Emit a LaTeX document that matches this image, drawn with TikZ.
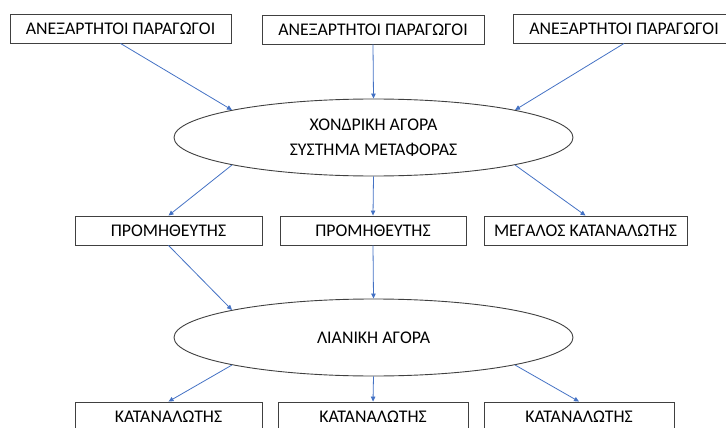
\documentclass[tikz,border=0pt]{standalone}
\usepackage{fontspec}
\setmainfont{Carlito}
\usetikzlibrary{arrows.meta,shapes.geometric}
\definecolor{arrblue}{HTML}{4472C4}
\definecolor{edge}{HTML}{404040}
\begin{document}
\begin{tikzpicture}[x=1pt,y=-1pt,
  box/.style={draw=edge, line width=0.9pt, rectangle, inner sep=0pt, minimum height=29pt, font=\fontsize{17.8}{20}\selectfont},
  oval/.style={draw=edge, line width=0.9pt, ellipse, inner sep=0pt, minimum width=399pt, minimum height=77pt, align=center, font=\fontsize{17.8}{22}\selectfont},
  link/.style={draw=arrblue, line width=0.8pt, -{Triangle[length=5pt,width=4.5pt]}}
]
\useasboundingbox (0,0) rectangle (726,428);
\begin{scope}
\clip (0,0) rectangle (726,428);
\node[box, minimum width=221pt] (t1) at (120.5,28.5) {ΑΝΕΞΑΡΤΗΤΟΙ ΠΑΡΑΓΩΓΟΙ};
\node[box, minimum width=222pt] (t2) at (373,29.5) {ΑΝΕΞΑΡΤΗΤΟΙ ΠΑΡΑΓΩΓΟΙ};
\node[box, minimum width=222pt] (t3) at (624,28.5) {ΑΝΕΞΑΡΤΗΤΟΙ ΠΑΡΑΓΩΓΟΙ};
\node[oval] (e1) at (373.5,137.5) {\raisebox{-2.5pt}{\shortstack{ΧΟΝΔΡΙΚΗ ΑΓΟΡΑ\\[9pt]ΣΥΣΤΗΜΑ ΜΕΤΑΦΟΡΑΣ}}};
\node[box, minimum width=187pt] (m1) at (168.5,230.5) {ΠΡΟΜΗΘΕΥΤΗΣ};
\node[box, minimum width=186pt] (m2) at (373,230.5) {ΠΡΟΜΗΘΕΥΤΗΣ};
\node[box, minimum width=203pt] (m3) at (585.5,230.5) {ΜΕΓΑΛΟΣ ΚΑΤΑΝΑΛΩΤΗΣ};
\node[oval] (e2) at (373.5,337.5) {\raisebox{-1.5pt}{ΛΙΑΝΙΚΗ ΑΓΟΡΑ}};
\node[box, minimum width=187pt] (b1) at (168.5,416.5) {ΚΑΤΑΝΑΛΩΤΗΣ};
\node[box, minimum width=190pt] (b2) at (373,416.5) {ΚΑΤΑΝΑΛΩΤΗΣ};
\node[box, minimum width=190pt] (b3) at (579,416.5) {ΚΑΤΑΝΑΛΩΤΗΣ};
\end{scope}
\draw[link] (t1.south) -- (e1.169);
\draw[link] (t2.south) -- (e1.north);
\draw[link] (t3.south) -- (e1.11);
\draw[link] (e1.191) -- (m1.north);
\draw[link] (e1.south) -- (m2.north);
\draw[link] (e1.349) -- (m3.north);
\draw[link] (m1.south) -- (e2.169);
\draw[link] (m2.south) -- (e2.north);
\draw[link] (e2.191) -- (b1.north);
\draw[link] (e2.south) -- (b2.north);
\draw[link] (e2.349) -- (b3.north);
\end{tikzpicture}
\end{document}
